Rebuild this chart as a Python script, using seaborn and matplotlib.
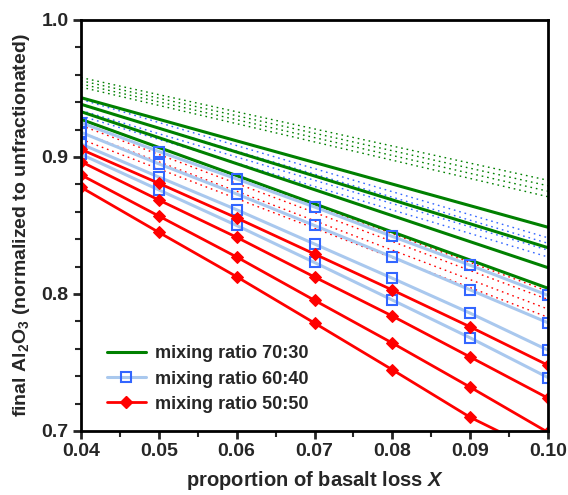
import numpy as np
import pandas as pd
import seaborn as sns
import matplotlib.pyplot as plt
from matplotlib.ticker import MultipleLocator, FormatStrFormatter
from matplotlib.lines import Line2D

sns.set_style("ticks")
plt.rcParams['font.family'] = ['Liberation Sans', 'DejaVu Sans']
plt.rcParams['font.weight'] = 'bold'
plt.rcParams['mathtext.fontset'] = 'custom'
plt.rcParams['mathtext.rm'] = 'Liberation Sans:bold'
plt.rcParams['mathtext.it'] = 'Liberation Sans:bold:italic'
plt.rcParams['mathtext.bf'] = 'Liberation Sans:bold'

# proportion of basalt loss
x_pts = [0.04, 0.05, 0.06, 0.07, 0.08, 0.09, 0.10]
x_ends = [0.04, 0.10]

# mixing ratio 60:40 (with markers)
blue_1 = [0.925, 0.904, 0.884, 0.8635, 0.842, 0.821, 0.799]
blue_2 = [0.918, 0.895, 0.873, 0.850, 0.827, 0.803, 0.779]
blue_3 = [0.9095, 0.8854, 0.8615, 0.8365, 0.8115, 0.786, 0.759]
blue_4 = [0.902, 0.876, 0.850, 0.823, 0.7956, 0.768, 0.739]

# mixing ratio 50:50 (with markers)
red_1 = [0.9056, 0.8808, 0.8555, 0.8292, 0.8029, 0.776, 0.748]
red_2 = [0.8966, 0.8686, 0.8414, 0.8124, 0.7839, 0.754, 0.724]
red_3 = [0.8869, 0.8569, 0.8270, 0.7954, 0.7642, 0.732, 0.699]
red_4 = [0.8779, 0.8450, 0.8126, 0.7788, 0.7447, 0.710, 0.682]

# mixing ratio 70:30 solid lines (values at X = 0.04 and 0.10)
green_solid = [[0.9433, 0.8487], [0.9385, 0.8338], [0.9331, 0.8192], [0.9275, 0.8042]]

# dotted bands (values at X = 0.04 and 0.10)
green_dotted = [[0.958, 0.883], [0.9557, 0.879], [0.9533, 0.875], [0.951, 0.871]]
blue_dotted = [[0.942, 0.841], [0.938, 0.837], [0.934, 0.832], [0.930, 0.827]]
red_dotted = [[0.928, 0.802], [0.923, 0.796], [0.918, 0.789], [0.913, 0.783]]

GREEN = '#008000'
LBLUE = '#a9c8ee'
BLUE = '#3366ff'
RED = '#ff0000'

fig = plt.figure(figsize=(5.68, 4.95), dpi=100)
ax = fig.add_axes([0.1426, 0.1293, 0.8222, 0.8303])

dots = (0, (1.2, 2.8))
for vals in green_dotted:
    sns.lineplot(x=x_ends, y=vals, color=GREEN, lw=1.0, linestyle=dots, ax=ax)
for vals in blue_dotted:
    sns.lineplot(x=x_ends, y=vals, color=BLUE, lw=1.0, linestyle=dots, ax=ax)
for vals in red_dotted:
    sns.lineplot(x=x_ends, y=vals, color=RED, lw=1.0, linestyle=dots, ax=ax)

for vals in green_solid:
    sns.lineplot(x=x_ends, y=vals, color=GREEN, lw=2.2, ax=ax)

for vals in [blue_1, blue_2, blue_3, blue_4]:
    sns.lineplot(x=x_pts, y=vals, color=LBLUE, lw=2.2, marker='s', markersize=7.5,
                 markerfacecolor='none', markeredgecolor=BLUE, markeredgewidth=1.5, ax=ax)

for vals in [red_1, red_2, red_3, red_4]:
    sns.lineplot(x=x_pts, y=vals, color=RED, lw=2.0, marker='D', markersize=6.5,
                 markerfacecolor=RED, markeredgecolor=RED, ax=ax)

ax.set_xlim(0.04, 0.10)
ax.set_ylim(0.7, 1.0)
ax.xaxis.set_major_locator(MultipleLocator(0.01))
ax.xaxis.set_minor_locator(MultipleLocator(0.005))
ax.yaxis.set_major_locator(MultipleLocator(0.1))
ax.yaxis.set_minor_locator(MultipleLocator(0.02))
ax.xaxis.set_major_formatter(FormatStrFormatter('%.2f'))
ax.yaxis.set_major_formatter(FormatStrFormatter('%.1f'))

for s in ax.spines.values():
    s.set_linewidth(2.0)
    s.set_color('black')
ax.tick_params(which='major', direction='out', length=6, width=2, labelsize=14, pad=3)
ax.tick_params(which='minor', direction='out', length=4, width=1.5)
ax.tick_params(top=False, right=False, which='both')
for lab in ax.get_xticklabels() + ax.get_yticklabels():
    lab.set_fontweight('bold')

ax.set_xlabel('proportion of basalt loss $X$', fontsize=14.5, fontweight='bold', labelpad=6)
ax.set_ylabel('final Al$_2$O$_3$ (normalized to unfractionated)', fontsize=14,
              fontweight='bold', labelpad=7)

handles = [
    Line2D([], [], color=GREEN, lw=2.2),
    Line2D([], [], color=LBLUE, lw=2.2, marker='s', markersize=7.5, markerfacecolor='none',
           markeredgecolor=BLUE, markeredgewidth=1.5),
    Line2D([], [], color=RED, lw=2.0, marker='D', markersize=6.5),
]
labels = ['mixing ratio 70:30', 'mixing ratio 60:40', 'mixing ratio 50:50']
ax.legend(handles, labels, loc='lower left', bbox_to_anchor=(0.02, 0.005), frameon=False,
          prop={'weight': 'bold', 'size': 13}, handlelength=2.2, handletextpad=0.5,
          labelspacing=0.45, numpoints=1)

fig.savefig('out.png', dpi=100)
